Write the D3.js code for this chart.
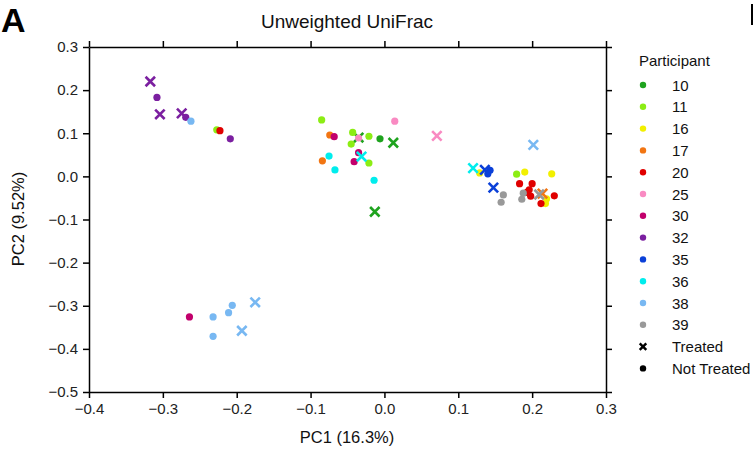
<!DOCTYPE html>
<html lang="en">
<head>
<meta charset="UTF-8">
<title>Unweighted UniFrac</title>
<style>
  body { margin: 0; background: #fff; }
  svg { font-family: "Liberation Sans", Arial, sans-serif; }
  .axis path, .axis line { stroke: #000; stroke-width: 1.5; }
  .axis text { font-size: 15px; fill: #222; }
</style>
</head>
<body>
<svg id="chart" width="755" height="454"></svg>
<script src="https://d3js.org/d3.v7.min.js"></script>
<script>
// participants and their colours
const participants = ["10", "11", "16", "17", "20", "25", "30", "32", "35", "36", "38", "39"];
const participantColors = ["#1ea31e", "#8ced14", "#f2f000", "#f27512", "#e00000", "#f98ac2",
                           "#c2006c", "#7b1fa0", "#0b40d8", "#00eded", "#78b8f2", "#999999"];

const xTicks = [-0.4, -0.3, -0.2, -0.1, 0.0, 0.1, 0.2, 0.3];
const yTicks = [0.3, 0.2, 0.1, 0.0, -0.1, -0.2, -0.3, -0.4, -0.5];

// samples: [participant, treated (1) / not treated (0), PC1, PC2]
const samples = [
  ["10", 1, 0.012, 0.078], ["10", 1, -0.013, -0.082], ["10", 1, -0.035, 0.090], ["10", 0, -0.006, 0.087],
  ["11", 0, -0.085, 0.131], ["11", 0, -0.043, 0.102], ["11", 0, -0.045, 0.075], ["11", 0, -0.021, 0.093],
  ["11", 0, -0.021, 0.031], ["11", 0, 0.179, 0.005], ["11", 0, -0.227, 0.108],
  ["16", 0, 0.129, 0.008], ["16", 0, 0.190, 0.010], ["16", 0, 0.2265, 0.006], ["16", 0, 0.2195, -0.052],
  ["16", 0, 0.218, -0.063],
  ["17", 0, -0.074, 0.096], ["17", 0, -0.084, 0.036], ["17", 1, 0.214, -0.040],
  ["20", 0, -0.2227, 0.106], ["20", 0, 0.183, -0.017], ["20", 0, 0.200, -0.017], ["20", 0, 0.196, -0.031],
  ["20", 0, 0.193, -0.037], ["20", 0, 0.198, -0.046], ["20", 0, 0.212, -0.063], ["20", 0, 0.230, -0.045],
  ["25", 0, 0.014, 0.128], ["25", 0, -0.035, 0.089], ["25", 1, 0.071, 0.094],
  ["30", 0, -0.068, 0.092], ["30", 0, -0.035, 0.055], ["30", 0, -0.041, 0.034], ["30", 0, -0.264, -0.326],
  ["32", 1, -0.317, 0.220], ["32", 0, -0.308, 0.183], ["32", 1, -0.304, 0.144], ["32", 1, -0.2745, 0.146],
  ["32", 0, -0.269, 0.137], ["32", 0, -0.2087, 0.087],
  ["35", 1, 0.136, 0.015], ["35", 0, 0.143, 0.014], ["35", 0, 0.140, 0.006], ["35", 1, 0.1475, -0.026],
  ["36", 1, -0.031, 0.046], ["36", 0, -0.075, 0.047], ["36", 0, -0.067, 0.015], ["36", 0, -0.014, -0.009],
  ["36", 1, 0.120, 0.019],
  ["38", 0, -0.262, 0.128], ["38", 1, 0.2016, 0.073], ["38", 0, -0.206, -0.299], ["38", 0, -0.211, -0.316],
  ["38", 0, -0.232, -0.326], ["38", 0, -0.232, -0.371], ["38", 1, -0.175, -0.292], ["38", 1, -0.193, -0.358],
  ["39", 0, 0.161, -0.043], ["39", 0, 0.158, -0.060], ["39", 0, 0.188, -0.039], ["39", 0, 0.186, -0.053],
  ["39", 1, 0.2095, -0.042]
];

const legendExtra = ["Treated", "Not Treated"];

const svg = d3.select("#chart");
const plotLeft = 89, plotRight = 606, plotTop = 47, plotBottom = 392;

const x = d3.scaleLinear().domain([-0.4, 0.3]).range([plotLeft, plotRight]);
const y = d3.scaleLinear().domain([-0.5, 0.3]).range([plotBottom, plotTop]);
const color = d3.scaleOrdinal().domain(participants).range(participantColors);

const fmt = d => d3.format(".1f")(d).replace("-", "\u2212");

// axes, ticks outward on all four sides
svg.append("g").attr("class", "axis")
  .attr("transform", `translate(0,${plotBottom})`)
  .call(d3.axisBottom(x).tickValues(xTicks).tickFormat(fmt).tickSize(6).tickSizeOuter(0).tickPadding(5));
svg.append("g").attr("class", "axis")
  .attr("transform", `translate(0,${plotTop})`)
  .call(d3.axisTop(x).tickValues(xTicks).tickFormat("").tickSize(6).tickSizeOuter(0));
svg.append("g").attr("class", "axis")
  .attr("transform", `translate(${plotLeft},0)`)
  .call(d3.axisLeft(y).tickValues(yTicks).tickFormat(fmt).tickSize(6).tickSizeOuter(0).tickPadding(5));
svg.append("g").attr("class", "axis")
  .attr("transform", `translate(${plotRight},0)`)
  .call(d3.axisRight(y).tickValues(yTicks).tickFormat("").tickSize(6).tickSizeOuter(0));

// markers
const cross = d3.symbol().type(d3.symbolX).size(60);
const pts = svg.append("g");
samples.forEach(s => {
  const [p, treated, pc1, pc2] = s;
  if (treated) {
    pts.append("path")
      .attr("d", cross)
      .attr("transform", `translate(${x(pc1)},${y(pc2)})`)
      .attr("fill", "none")
      .attr("stroke", color(p))
      .attr("stroke-width", 2.6);
  } else {
    pts.append("circle")
      .attr("cx", x(pc1)).attr("cy", y(pc2)).attr("r", 3.6)
      .attr("fill", color(p));
  }
});

// titles
svg.append("text").attr("x", 347).attr("y", 28).attr("text-anchor", "middle")
  .style("font-size", "19px").attr("fill", "#111").text("Unweighted UniFrac");
svg.append("text").attr("x", 347).attr("y", 443).attr("text-anchor", "middle")
  .style("font-size", "16.5px").attr("fill", "#111").text("PC1 (16.3%)");
svg.append("text").attr("transform", "translate(24,219) rotate(-90)").attr("text-anchor", "middle")
  .style("font-size", "16.5px").attr("fill", "#111").text("PC2 (9.52%)");
svg.append("text").attr("x", 1).attr("y", 32)
  .style("font-size", "34px").style("font-weight", "bold").attr("fill", "#000").text("A");
// edge of the neighbouring panel
svg.append("line").attr("x1", 752).attr("x2", 752).attr("y1", 4).attr("y2", 25)
  .attr("stroke", "#000").attr("stroke-width", 2);

// legend
const lg = svg.append("g");
lg.append("text").attr("x", 639).attr("y", 66).style("font-size", "15px").attr("fill", "#111").text("Participant");
const rowH = 21.8, row0 = 85;
participants.forEach((p, i) => {
  lg.append("circle").attr("cx", 643).attr("cy", row0 + i * rowH).attr("r", 3.2).attr("fill", color(p));
  lg.append("text").attr("x", 672).attr("y", row0 + i * rowH + 5.5).style("font-size", "15px")
    .attr("fill", "#111").text(p);
});
legendExtra.forEach((t, j) => {
  const cy = row0 + (participants.length + j) * rowH;
  if (j === 0) {
    lg.append("path").attr("d", d3.symbol().type(d3.symbolX).size(30))
      .attr("transform", `translate(643,${cy})`).attr("stroke", "#000").attr("stroke-width", 2.4);
  } else {
    lg.append("circle").attr("cx", 643).attr("cy", cy).attr("r", 3.2).attr("fill", "#000");
  }
  lg.append("text").attr("x", 672).attr("y", cy + 5.5).style("font-size", "15px").attr("fill", "#111").text(t);
});
</script>
</body>
</html>
